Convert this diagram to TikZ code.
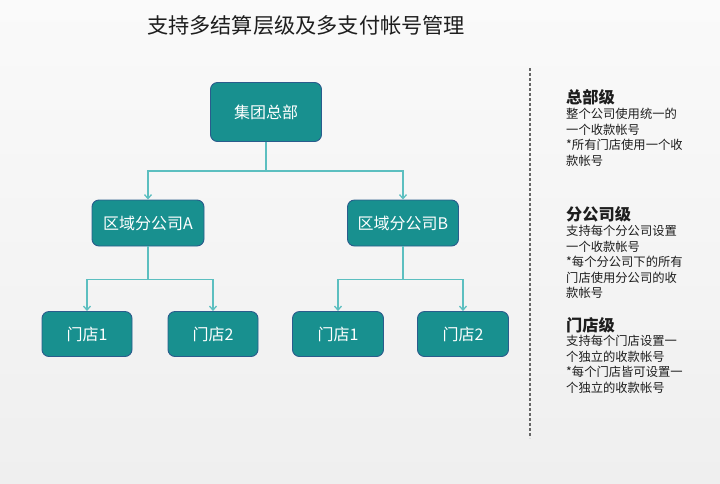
\documentclass[tikz,border=0pt]{standalone}
\usepackage{fontspec}
\setmainfont{Noto Sans CJK SC}
\usetikzlibrary{arrows.meta}
\definecolor{boxfill}{HTML}{18908F}
\definecolor{boxline}{HTML}{2A5C8C}
\definecolor{conncol}{HTML}{5CBFC0}
\definecolor{bgtop}{HTML}{FAFAFA}
\definecolor{bgbot}{HTML}{EFEFEF}
\definecolor{txt}{HTML}{1E1E1E}
\tikzset{
  orgbox/.style={draw=boxline, line width=0.9pt, fill=boxfill, rounded corners=7pt,
    text=white, font=\fontsize{16}{19}\selectfont, inner sep=0pt, align=center},
  conn/.style={draw=conncol, line width=1.3pt, -{Straight Barb[length=4pt,width=7pt]}},
  sephead/.style={anchor=west, inner sep=0pt, text=txt, font=\bfseries\fontsize{16.2}{19}\selectfont},
  sepbody/.style={anchor=north west, inner sep=0pt, text=txt, align=left, font=\fontsize{12.3}{15.5}\selectfont},
}
\begin{document}
\begin{tikzpicture}[x=1pt,y=-1pt]
\useasboundingbox (0,0) rectangle (720,483);
\shade[top color=bgtop, bottom color=bgbot] (0,0) rectangle (720,483);
\node[anchor=center, inner sep=0pt, text=txt, font=\fontsize{21.2}{25}\selectfont] (title) at (306,25) {支持多结算层级及多支付帐号管理};

\node[orgbox, minimum width=111pt, minimum height=59pt] (hq) at (266,112) {集团总部};
\node[orgbox, minimum width=112pt, minimum height=46pt] (ba) at (148,223) {区域分公司A};
\node[orgbox, minimum width=111pt, minimum height=46pt] (bb) at (403,223) {区域分公司B};
\node[orgbox, minimum width=90pt, minimum height=45pt] (s1) at (87,334) {门店1};
\node[orgbox, minimum width=90pt, minimum height=45pt] (s2) at (213,334) {门店2};
\node[orgbox, minimum width=91pt, minimum height=45pt] (s3) at (338,334) {门店1};
\node[orgbox, minimum width=91pt, minimum height=45pt] (s4) at (463,334) {门店2};

\draw[conn] (hq.south) -- ++(0,29) -| (ba.north);
\draw[conn] (hq.south) -- ++(0,29) -| (bb.north);
\draw[conn] (ba.south) -- ++(0,33) -| (s1.north);
\draw[conn] (ba.south) -- ++(0,33) -| (s2.north);
\draw[conn] (bb.south) -- ++(0,33) -| (s3.north);
\draw[conn] (bb.south) -- ++(0,33) -| (s4.north);

\coordinate (d1) at (530,68);
\coordinate (d2) at (530,438);
\draw[draw=gray!80!black, line width=1.4pt, dash pattern=on 3pt off 2pt] (d1) -- (d2);

\node[sephead] (h1) at (566,97) {总部级};
\node[sepbody] (b1) at (566,108) {整个公司使用统一的\\一个收款帐号\\*所有门店使用一个收\\款帐号};
\node[sephead] (h2) at (566,214) {分公司级};
\node[sepbody] (b2) at (566,225) {支持每个分公司设置\\一个收款帐号\\*每个分公司下的所有\\门店使用分公司的收\\款帐号};
\node[sephead] (h3) at (566,325) {门店级};
\node[sepbody] (b3) at (566,335) {支持每个门店设置一\\个独立的收款帐号\\*每个门店皆可设置一\\个独立的收款帐号};
\end{tikzpicture}
\end{document}
